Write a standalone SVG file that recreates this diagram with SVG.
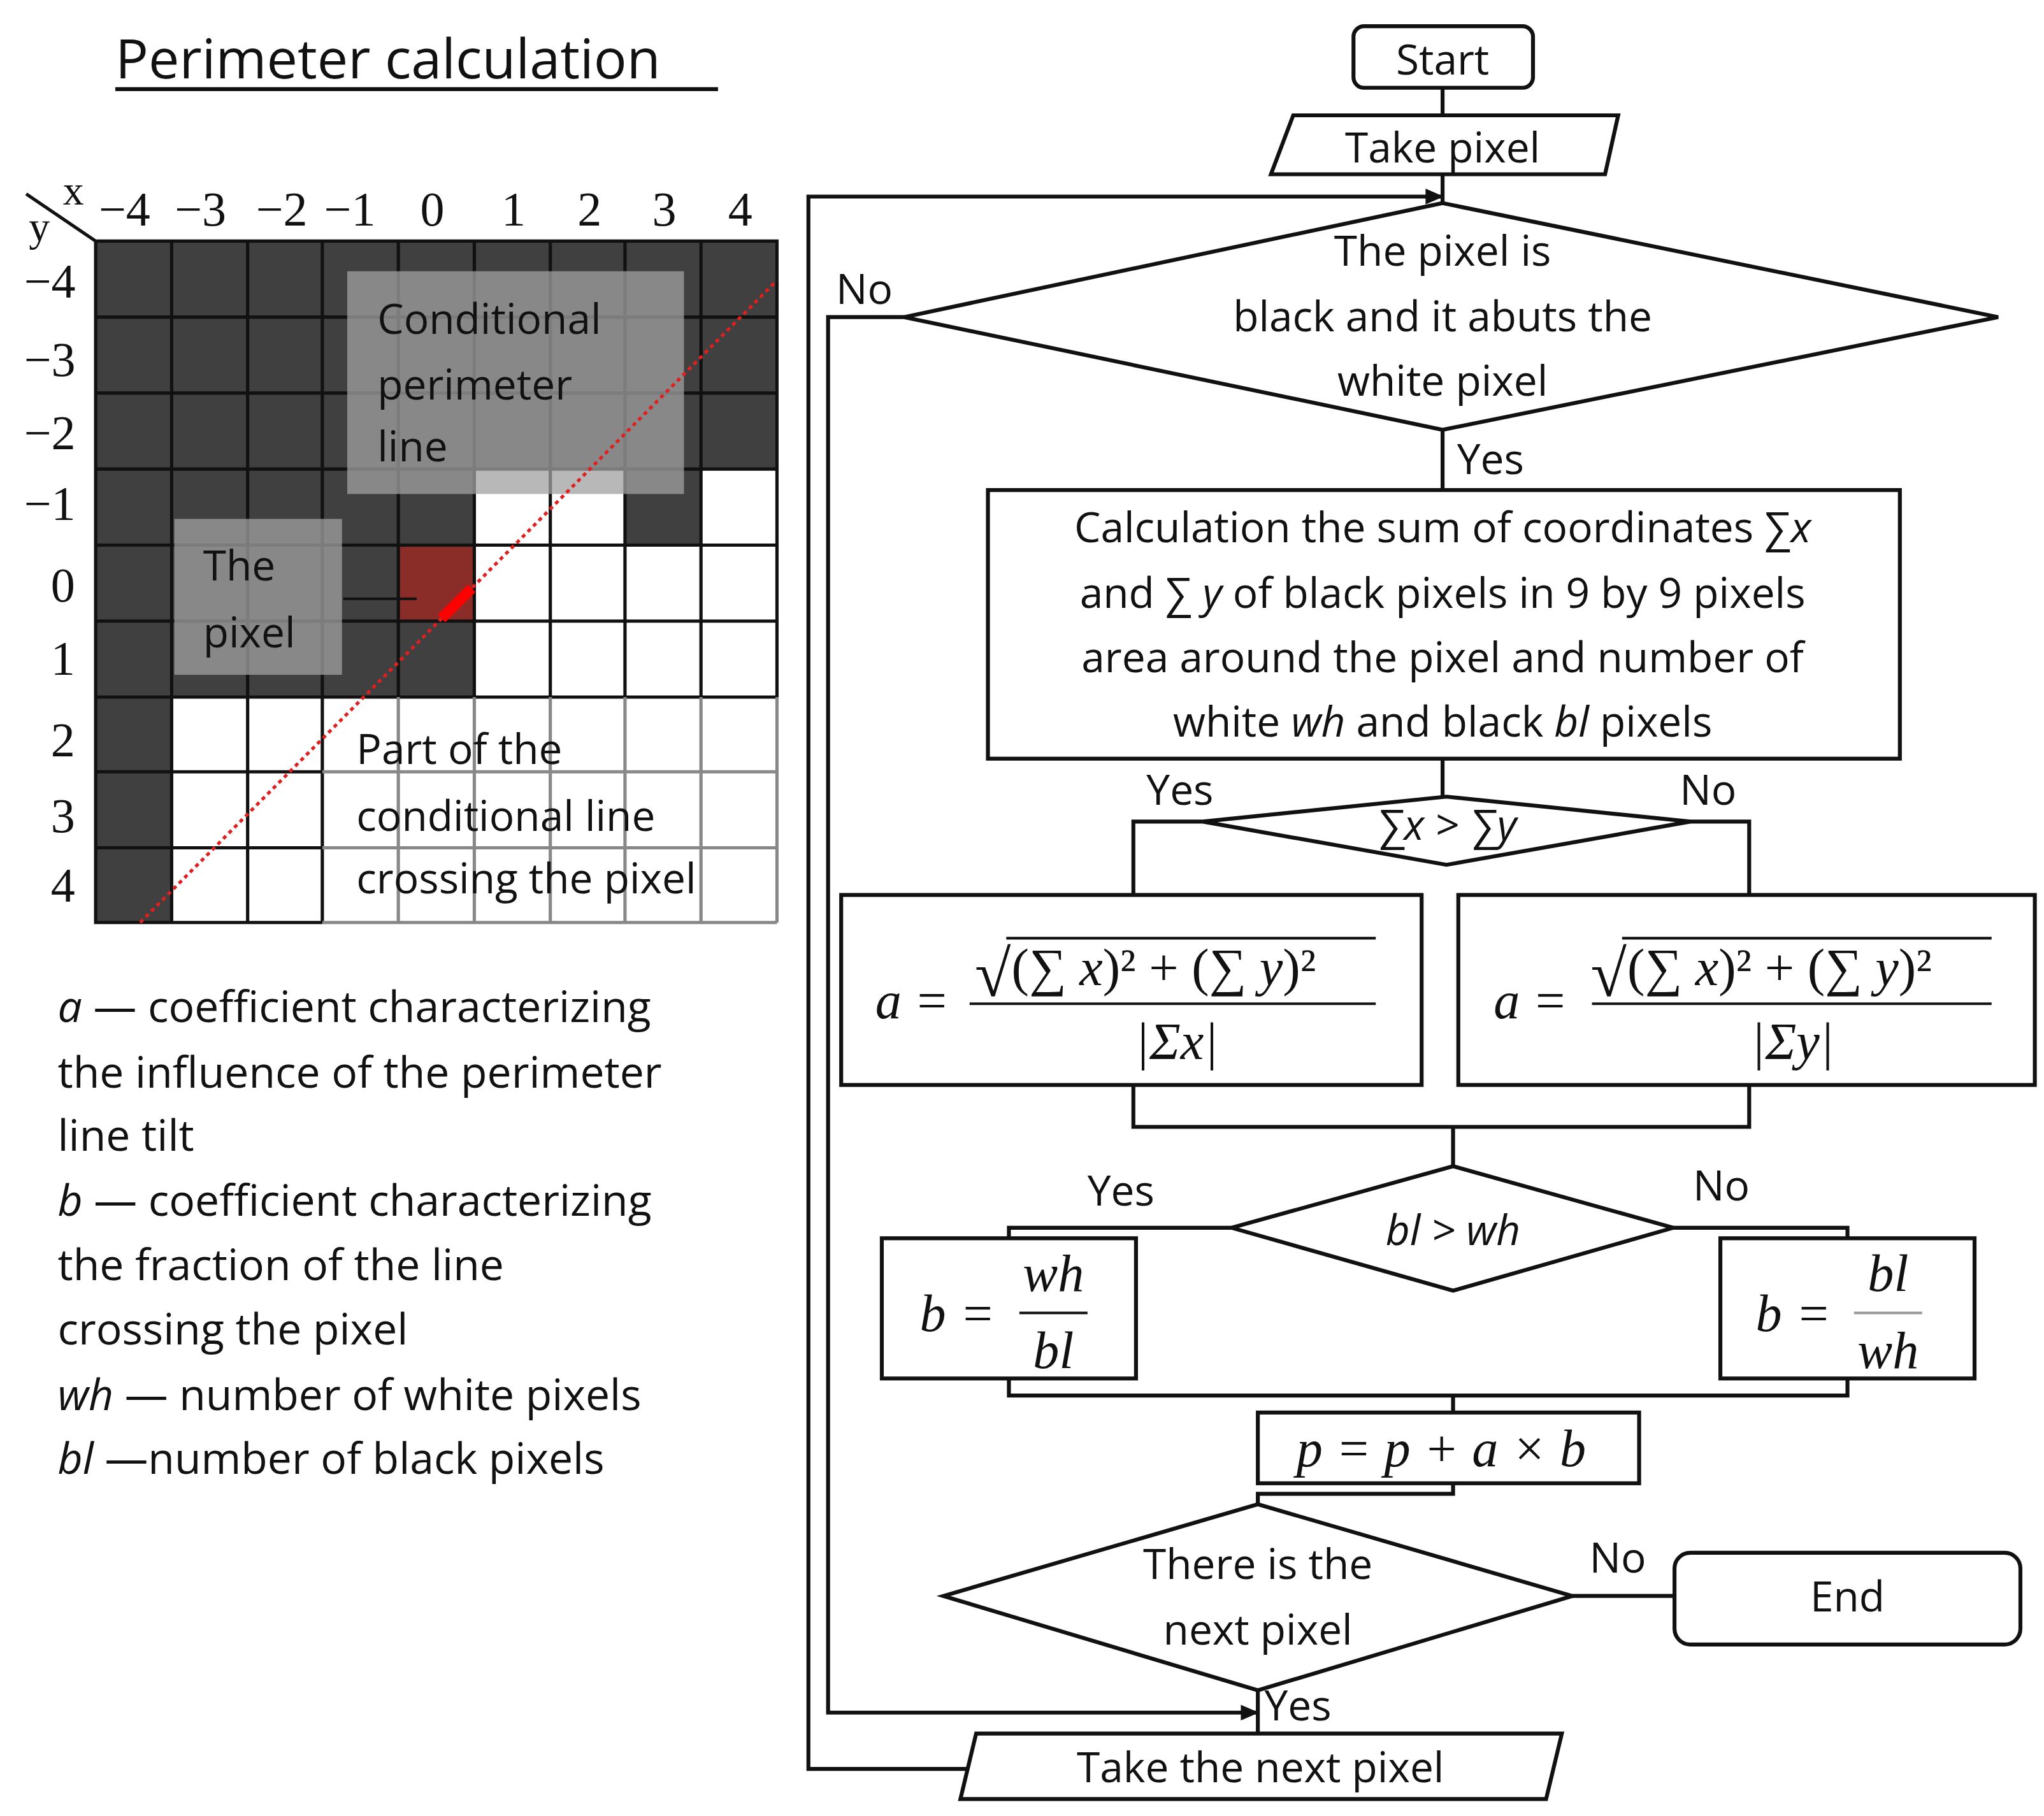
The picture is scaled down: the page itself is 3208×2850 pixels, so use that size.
<svg xmlns="http://www.w3.org/2000/svg" width="3208" height="2850" viewBox="0 0 3208 2850">
<style>
.t{font-family:"Open Sans","Liberation Sans",sans-serif;font-size:32px;fill:#111}
.c{text-anchor:middle}
.s{font-family:"Liberation Serif",serif;font-size:37px;fill:#111}
.m{font-family:"Liberation Serif",serif;font-size:40px;fill:#111}
.i{font-style:italic}
.n{fill:#fff;stroke:#111;stroke-width:3}
.ln{fill:none;stroke:#111;stroke-width:3}
.blk{fill:#404040}
</style>
<defs>
<marker id="ar" markerWidth="14" markerHeight="12" refX="13" refY="6" orient="auto" markerUnits="userSpaceOnUse"><path d="M0,0 L14,6 L0,12 z" fill="#111"/></marker>
</defs>
<rect width="3208" height="2850" fill="#fff"/>
<g transform="scale(2.05641)">
<g id="title"><text x="88" y="60" class="t" style="font-size:42px">Perimeter calculation</text><line x1="88" y1="68" x2="548" y2="68" class="ln"/></g>
<g id="grid">
<rect x="73" y="184" width="520" height="520" fill="#fff"/>
<rect x="73" y="184" width="520" height="174" class="blk"/>
<rect x="73" y="358" width="289" height="58" class="blk"/>
<rect x="477" y="358" width="58" height="58" class="blk"/>
<rect x="73" y="416" width="231" height="58" class="blk"/>
<rect x="304" y="416" width="58" height="58" fill="#8a2d28"/>
<rect x="73" y="474" width="289" height="58" class="blk"/>
<rect x="73" y="532" width="58" height="172" class="blk"/>
<path d="M131,184V704M189,184V704M246,184V704M304,184V532M362,184V532M420,184V532M477,184V532M535,184V532M73,242H593M73,300H593M73,358H593M73,416H593M73,474H593M73,532H593M73,589H246M73,647H246" stroke="#111" stroke-width="2.5" fill="none"/>
<path d="M304,532V704M362,532V704M420,532V704M477,532V704M535,532V704M246,589H593M246,647H593M246,704H593M593,532V704" stroke="#888" stroke-width="2.5" fill="none"/>
<path d="M73,184H593V532M73,184V704H246" stroke="#111" stroke-width="2.5" fill="none"/>
<rect x="265" y="207" width="257" height="170" fill="#a0a0a0" fill-opacity="0.75"/>
<rect x="133" y="396" width="128" height="119" fill="#a0a0a0" fill-opacity="0.75"/>
<line x1="107" y1="704" x2="593" y2="214" stroke="#e02020" stroke-width="2.5" stroke-dasharray="3,3"/>
<line x1="337" y1="472" x2="360" y2="449" stroke="#ff0000" stroke-width="8"/>
<line x1="262" y1="457" x2="318" y2="457" stroke="#111" stroke-width="2"/>
<text class="t" x="288" y="255">Conditional</text><text class="t" x="288" y="305">perimeter</text><text class="t" x="288" y="352">line</text>
<text class="t" x="155" y="443">The</text><text class="t" x="155" y="494">pixel</text>
<text class="t" x="272" y="583">Part of the</text><text class="t" x="272" y="634">conditional line</text><text class="t" x="272" y="682">crossing the pixel</text>
<line x1="20" y1="148" x2="73" y2="184" stroke="#111" stroke-width="2.5"/>
<text class="s" x="48" y="156" style="font-size:32px">x</text><text class="s" x="22" y="184" style="font-size:32px">y</text>
<g class="s c">
<text x="95" y="172">−4</text><text x="153" y="172">−3</text><text x="215" y="172">−2</text><text x="267" y="172">−1</text><text x="330" y="172">0</text><text x="392" y="172">1</text><text x="450" y="172">2</text><text x="507" y="172">3</text><text x="565" y="172">4</text>
<text x="38" y="227">−4</text><text x="38" y="287">−3</text><text x="38" y="343">−2</text><text x="38" y="397">−1</text><text x="48" y="459">0</text><text x="48" y="515">1</text><text x="48" y="577">2</text><text x="48" y="635">3</text><text x="48" y="688">4</text>
</g>
</g>
<g id="legend" class="t" style="font-size:33px">
<text x="44" y="780"><tspan class="i">a</tspan> — coefficient characterizing</text>
<text x="44" y="830">the influence of the perimeter</text>
<text x="44" y="878">line tilt</text>
<text x="44" y="928"><tspan class="i">b</tspan> — coefficient characterizing</text>
<text x="44" y="977">the fraction of the line</text>
<text x="44" y="1026">crossing the pixel</text>
<text x="44" y="1076"><tspan class="i">wh</tspan> — number of white pixels</text>
<text x="44" y="1125"><tspan class="i">bl</tspan> —number of black pixels</text>
</g>
<g id="connectors" class="ln">
<line x1="1101" y1="67" x2="1101" y2="88"/>
<line x1="1101" y1="133" x2="1101" y2="155"/>
<path d="M742,1350H617V150H1101" marker-end="url(#ar)"/>
<path d="M690,242H632V1307H960" marker-end="url(#ar)"/>
<line x1="1101" y1="328" x2="1101" y2="374"/>
<line x1="1101" y1="579" x2="1101" y2="608"/>
<path d="M918,627H865V683M1290,627H1335V683"/>
<path d="M865,828V860H1335V828M1109,860V890"/>
<path d="M940,937H770V945M1277,937H1410V945"/>
<path d="M770,1052V1065H1410V1052M1109,1065V1078"/>
<path d="M1109,1132V1140H960V1148"/>
<line x1="1200" y1="1218" x2="1278" y2="1218"/>
<line x1="960" y1="1290" x2="960" y2="1323"/>
</g>
<g class="t">
<text x="638" y="232">No</text><text x="1112" y="362">Yes</text><text x="875" y="614">Yes</text><text x="1282" y="614">No</text>
<text x="830" y="920">Yes</text><text x="1292" y="916">No</text><text x="1213" y="1200">No</text><text x="965" y="1313">Yes</text>
</g>
<g id="start"><rect x="1033" y="20" width="137" height="47" rx="8" class="n"/><text class="t c" x="1101" y="57">Start</text></g>
<g id="take"><polygon points="987,88 1235,88 1225,133 970,133" class="n"/><text class="t c" x="1101" y="124">Take pixel</text></g>
<g id="d1"><polygon points="1101,155 1525,242 1101,328 690,242" class="n"/>
<text class="t c" x="1101" y="203">The pixel is</text><text class="t c" x="1101" y="253">black and it abuts the</text><text class="t c" x="1101" y="302">white pixel</text></g>
<g id="calc"><rect x="754" y="374" width="696" height="205" class="n"/>
<text class="t c" x="1101" y="414">Calculation the sum of coordinates ∑<tspan class="i">x</tspan></text>
<text class="t c" x="1101" y="464">and ∑ <tspan class="i">y</tspan> of black pixels in 9 by 9 pixels</text>
<text class="t c" x="1101" y="513">area around the pixel and number of</text>
<text class="t c" x="1101" y="562">white <tspan class="i">wh</tspan> and black <tspan class="i">bl</tspan> pixels</text></g>
<g id="d2"><polygon points="1104,608 1290,627 1104,660 918,627" class="n"/><text class="t c i" x="1104" y="641">∑x &gt; ∑y</text></g>
<g id="a1"><rect x="642" y="683" width="443" height="145" class="n"/>
<text class="m i" x="668" y="777">a</text><text class="m" x="700" y="777">=</text>
<text class="m" x="744" y="760" style="font-size:50px">√</text><line x1="768" y1="716" x2="1050" y2="716" stroke="#111" stroke-width="2"/>
<text class="m" x="772" y="752">(∑ <tspan class="i">x</tspan>)² + (∑ <tspan class="i">y</tspan>)²</text>
<line x1="740" y1="766" x2="1050" y2="766" stroke="#111" stroke-width="2"/>
<text class="m c i" x="898" y="808">|Σx|</text></g>
<g id="a2"><rect x="1113" y="683" width="440" height="145" class="n"/>
<text class="m i" x="1140" y="777">a</text><text class="m" x="1172" y="777">=</text>
<text class="m" x="1214" y="760" style="font-size:50px">√</text><line x1="1238" y1="716" x2="1520" y2="716" stroke="#111" stroke-width="2"/>
<text class="m" x="1242" y="752">(∑ <tspan class="i">x</tspan>)² + (∑ <tspan class="i">y</tspan>)²</text>
<line x1="1215" y1="766" x2="1520" y2="766" stroke="#111" stroke-width="2"/>
<text class="m c i" x="1368" y="808">|Σy|</text></g>
<g id="d3"><polygon points="1109,890 1277,937 1109,985 940,937" class="n"/><text class="t c i" x="1109" y="950">bl &gt; wh</text></g>
<g id="b1"><rect x="673" y="945" width="194" height="107" class="n"/>
<text class="m i" x="702" y="1016">b</text><text class="m" x="735" y="1016">=</text>
<text class="m c i" x="804" y="985">wh</text><line x1="778" y1="1002" x2="830" y2="1002" stroke="#111" stroke-width="2"/><text class="m c i" x="804" y="1044">bl</text></g>
<g id="b2"><rect x="1313" y="945" width="194" height="107" class="n"/>
<text class="m i" x="1340" y="1016">b</text><text class="m" x="1373" y="1016">=</text>
<text class="m c i" x="1441" y="985">bl</text><line x1="1415" y1="1002" x2="1467" y2="1002" stroke="#999" stroke-width="2"/><text class="m c i" x="1441" y="1044">wh</text></g>
<g id="p"><rect x="960" y="1078" width="291" height="54" class="n"/><text class="m c i" x="1100" y="1119">p = p + a × b</text></g>
<g id="d4"><polygon points="960,1148 1200,1218 960,1290 720,1218" class="n"/>
<text class="t c" x="960" y="1205">There is the</text><text class="t c" x="960" y="1255">next pixel</text></g>
<g id="end"><rect x="1278" y="1185" width="264" height="70" rx="12" class="n"/><text class="t c" x="1410" y="1230">End</text></g>
<g id="next"><polygon points="745,1323 1192,1323 1180,1373 733,1373" class="n"/><text class="t c" x="962" y="1360">Take the next pixel</text></g>
</g>
</svg>
